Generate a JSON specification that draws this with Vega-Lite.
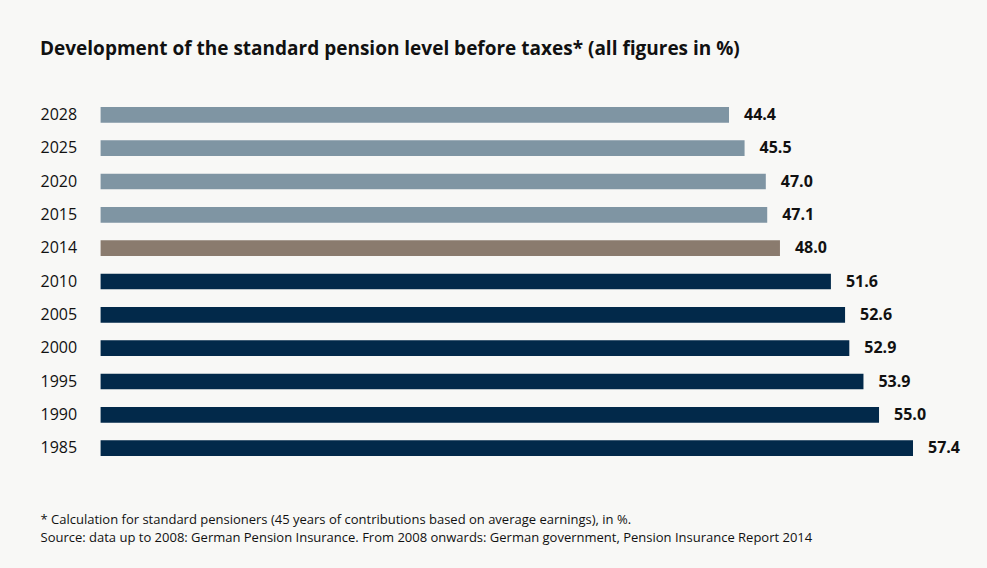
{
  "$schema": "https://vega.github.io/schema/vega-lite/v6.json",
  "width": 849.2,
  "height": 349,
  "autosize": {"type": "none"},
  "padding": {"left": 100.6, "top": 107, "right": 37.2, "bottom": 112},
  "background": "#f8f8f6",
  "config": {
    "view": {"stroke": null},
    "font": "Open Sans"
  },
  "title": {
    "text": "Development of the standard pension level before taxes* (all figures in %)",
    "anchor": "start",
    "frame": "group",
    "orient": "top",
    "offset": 0,
    "dx": -60.6,
    "dy": -32,
    "baseline": "alphabetic",
    "font": "Open Sans",
    "fontSize": 19,
    "fontWeight": 700,
    "color": "#111111"
  },
  "data": {
    "values": [
      {"year": "2028", "value": 44.4, "group": "projection"},
      {"year": "2025", "value": 45.5, "group": "projection"},
      {"year": "2020", "value": 47.0, "group": "projection"},
      {"year": "2015", "value": 47.1, "group": "projection"},
      {"year": "2014", "value": 48.0, "group": "current"},
      {"year": "2010", "value": 51.6, "group": "historical"},
      {"year": "2005", "value": 52.6, "group": "historical"},
      {"year": "2000", "value": 52.9, "group": "historical"},
      {"year": "1995", "value": 53.9, "group": "historical"},
      {"year": "1990", "value": 55.0, "group": "historical"},
      {"year": "1985", "value": 57.4, "group": "historical"}
    ]
  },
  "encoding": {
    "y": {
      "field": "year",
      "type": "nominal",
      "sort": "descending",
      "scale": {"paddingInner": 0.53, "paddingOuter": 0},
      "axis": {
        "title": null,
        "orient": "left",
        "domain": false,
        "ticks": false,
        "tickSize": 0,
        "labelPadding": 60.6,
        "labelAlign": "left",
        "labelFont": "Open Sans",
        "labelFontSize": 16,
        "labelColor": "#111111"
      }
    },
    "x": {
      "field": "value",
      "type": "quantitative",
      "scale": {"domain": [0, 60], "nice": false},
      "axis": {
        "orient": "bottom",
        "domain": false,
        "ticks": false,
        "labels": false,
        "grid": false,
        "title": [
          "* Calculation for standard pensioners (45 years of contributions based on average earnings), in %.",
          "Source: data up to 2008: German Pension Insurance. From 2008 onwards: German government, Pension Insurance Report 2014"
        ],
        "titleAnchor": "start",
        "titleAlign": "left",
        "titleBaseline": "alphabetic",
        "titleX": -60.6,
        "titleY": 67,
        "titleFont": "Open Sans",
        "titleFontSize": 13,
        "titleFontWeight": 400,
        "titleLineHeight": 18,
        "titleColor": "#111111"
      }
    }
  },
  "layer": [
    {
      "mark": {"type": "bar"},
      "encoding": {
        "color": {
          "field": "group",
          "type": "nominal",
          "scale": {"domain": ["projection", "current", "historical"], "range": ["#7f95a3", "#8a7b6e", "#02294a"]},
          "legend": null
        }
      }
    },
    {
      "mark": {"type": "text", "align": "left", "baseline": "middle", "dx": 15, "font": "Open Sans", "fontSize": 16, "fontWeight": 700, "color": "#111111"},
      "encoding": {
        "text": {"field": "value", "type": "quantitative", "format": ".1f"}
      }
    }
  ]
}
